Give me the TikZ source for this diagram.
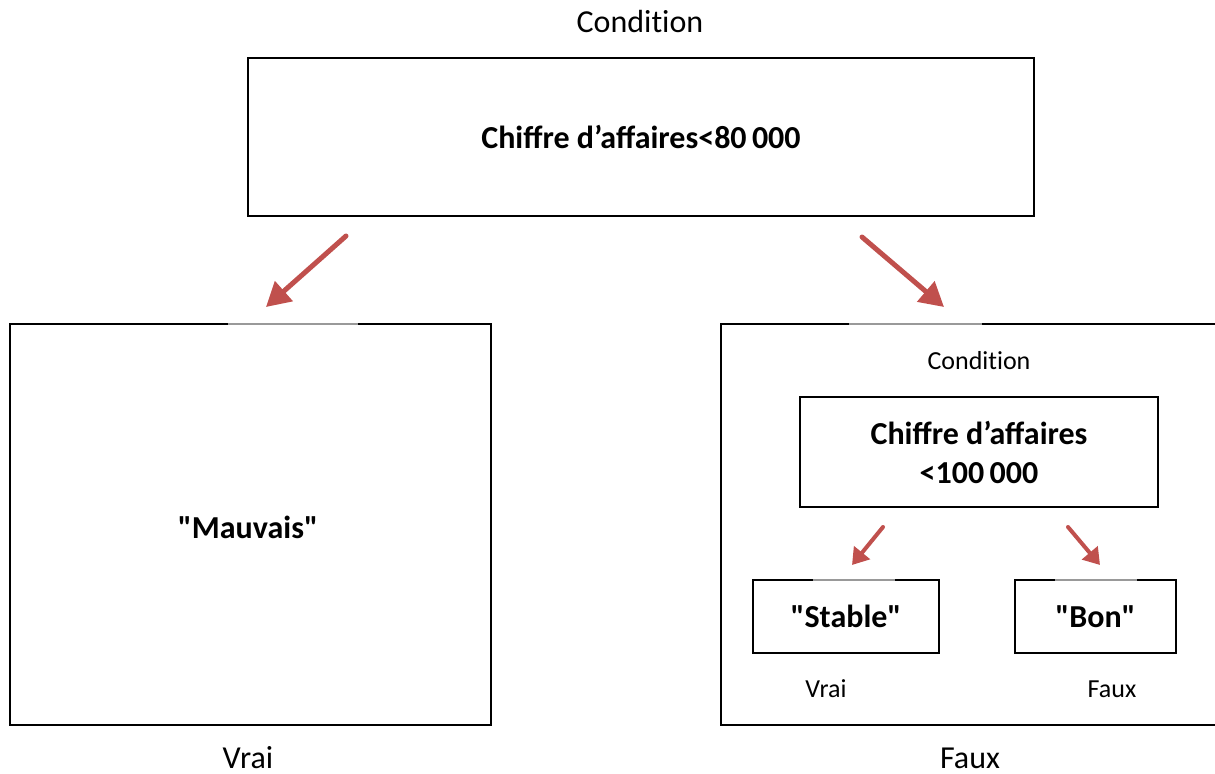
\documentclass[tikz,border=0pt]{standalone}
\usepackage{fontspec}
\setmainfont{Carlito}[Ligatures=TeXOff]
\usetikzlibrary{arrows.meta}

\definecolor{arrowred}{RGB}{192,80,77}

\tikzset{
	box/.style={draw=black, line width=1pt, inner sep=0},
	big/.style={font=\fontsize{16}{19.5}\selectfont\bfseries, align=center},
	small/.style={font=\fontsize{13}{15.6}\selectfont},
	label/.style={font=\fontsize{16}{19.5}\selectfont},
	redarrow/.style={draw=arrowred, line width=2.5pt, line cap=round,
		-{Triangle[length=12pt, width=13pt]}},
	minorarrow/.style={draw=arrowred, line width=2pt, line cap=round,
		-{Triangle[length=8pt, width=10pt]}},
	gapline/.style={draw=gray!80, line width=0.6pt},
}

\begin{document}
\begin{tikzpicture}[x=0.5pt, y=-0.5pt]
	\useasboundingbox (0, 0) rectangle (1215, 774);
	\clip (0, 0) rectangle (1215, 774);

	% Top condition
	\node (cond) [label] at (640, 22) {Condit\kern0pt ion};
	\node (top)
	      [ box
	      , minimum width=393pt
	      , minimum height=79pt
	      ]
	      at (641, 137)
	      {};
	\node (toptext) [big] at (top.center) {Chiffre d’affaires<80\,000};

	% Branches
	\node (left)
	      [ box
	      , minimum width=240.5pt
	      , minimum height=200.5pt
	      ]
	      at (250.5, 524.5)
	      {};
	\node (mauvais) [big] at (248, 527) {"Mauvais"};

	\node (right)
	      [ box
	      , minimum width=254pt
	      , minimum height=200.5pt
	      ]
	      at (975, 524.5)
	      {};

	% Nested condition
	\node (subcond) [small] at (979, 361) {Condit\kern0pt ion};
	\node (inner)
	      [ box
	      , minimum width=179pt
	      , minimum height=55pt
	      ]
	      at (979, 452)
	      {};
	\node (innertext) [big] at (inner.center) {Chiffre d’affaires\\<100\,000};

	\node (stable)
	      [ box
	      , minimum width=93pt
	      , minimum height=36.5pt
	      ]
	      at (846, 616.5)
	      {};
	\node [big] at (stable.center) {"Stable"};
	\node (bon)
	      [ box
	      , minimum width=80.5pt
	      , minimum height=36.5pt
	      ]
	      at (1095.5, 616.5)
	      {};
	\node [big] at (bon.center) {"Bon"};

	% Light segments on top edges
	\foreach \xa/\xb/\yy in {228/358/324, 849/982/324, 813/895/580, 1055/1137/580}{
		\draw [white, line width=1.2pt] (\xa, \yy) -- (\xb, \yy);
		\draw [gapline] (\xa, \yy) -- (\xb, \yy);
	}

	% Arrows
	\coordinate (la) at (346, 236);
	\coordinate (lb) at (266, 307);
	\coordinate (ra) at (862, 237);
	\coordinate (rb) at (944, 307);
	\draw [redarrow] (la) -- (lb);
	\draw [redarrow] (ra) -- (rb);

	\coordinate (sla) at (883, 527);
	\coordinate (slb) at (852, 565);
	\coordinate (sra) at (1068, 527);
	\coordinate (srb) at (1100, 565);
	\draw [minorarrow] (sla) -- (slb);
	\draw [minorarrow] (sra) -- (srb);

	% Outcome labels
	\foreach \x/\y/\lab/\sty in {826/697/Vrai/small, 1112/697/Faux/small,
	                             248/768/Vrai/label, 970/768/Faux/label}{
		\node [\sty, anchor=base, inner sep=0] at (\x, \y) {\lab};
	}
\end{tikzpicture}
\end{document}
